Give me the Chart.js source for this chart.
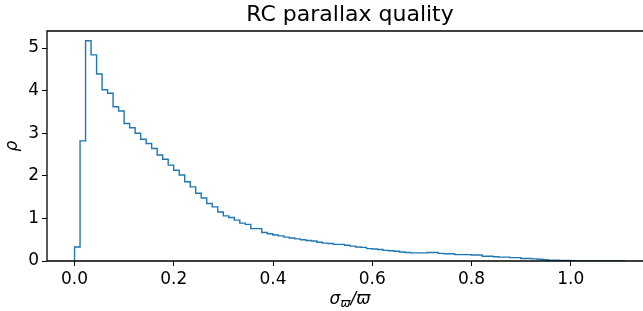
<!DOCTYPE html>
<html>
<head>
<meta charset="UTF-8">
<title>RC parallax quality</title>
<script src="https://cdn.jsdelivr.net/npm/chart.js"></script>
<style>
    body { margin: 0; overflow: hidden; background: #fff; }
    #wrap { width: 643px; height: 311px; }
</style>
</head>
<body>
<div id="wrap"><canvas id="chart"></canvas></div>
<script>
// histogram: 100 bins starting at 0, width ~0.0111, density values per bin
const binStart = 0;
const binWidth = 0.0111;
const density = [
    0.33, 2.82, 5.17, 4.84, 4.39, 4.02, 3.94, 3.62, 3.52, 3.23,
    3.13, 3.00, 2.86, 2.76, 2.64, 2.49, 2.39, 2.25, 2.13, 2.02,
    1.86, 1.74, 1.59, 1.48, 1.35, 1.27, 1.15, 1.06, 1.02, 0.96,
    0.89, 0.86, 0.76, 0.76, 0.67, 0.64, 0.61, 0.59, 0.56, 0.54,
    0.52, 0.50, 0.48, 0.47, 0.44, 0.42, 0.41, 0.39, 0.39, 0.37,
    0.35, 0.33, 0.32, 0.29, 0.28, 0.27, 0.25, 0.24, 0.23, 0.21,
    0.20, 0.19, 0.19, 0.19, 0.20, 0.20, 0.18, 0.17, 0.17, 0.15,
    0.15, 0.15, 0.14, 0.14, 0.11, 0.11, 0.10, 0.09, 0.09, 0.08,
    0.08, 0.06, 0.06, 0.05, 0.04, 0.03, 0.02, 0.02, 0.015, 0.01,
    0.008, 0.004, 0, 0, 0, 0, 0, 0, 0, 0
];
const xTicks = [0.0, 0.2, 0.4, 0.6, 0.8, 1.0];
const yTicks = [0, 1, 2, 3, 4, 5];
const title = 'RC parallax quality';

const FONT = "'DejaVu Sans', sans-serif";

// step outline points (left edges), closed down to zero at both ends
let pts = [{ x: binStart, y: 0 }];
density.forEach((v, i) => pts.push({ x: binStart + i * binWidth, y: v }));
pts.push({ x: binStart + density.length * binWidth, y: 0 });

// the figure is cropped on the right, so the axes centre sits at x=350
const midX = 350;

// spines (right one is outside the crop), title, x label with subscript
const frame = {
    id: 'frame',
    afterDraw(chart) {
        const c = chart.ctx, a = chart.chartArea;
        c.save();
        c.strokeStyle = '#000';
        c.lineWidth = 1.3;
        c.beginPath();
        c.moveTo(a.right + 5, a.top);
        c.lineTo(a.left, a.top);
        c.lineTo(a.left, a.bottom);
        c.lineTo(a.right + 5, a.bottom);
        c.stroke();

        c.fillStyle = '#000';
        c.textBaseline = 'alphabetic';
        c.textAlign = 'center';
        c.font = '22px ' + FONT;
        c.fillText(title, midX, 21);

        const big = 'italic 17px ' + FONT, small = 'italic 12px ' + FONT;
        c.font = big; const w1 = c.measureText('σ').width;
        c.font = small; const w2 = c.measureText('ϖ').width;
        c.font = big; const w3 = c.measureText('/ϖ').width;
        let x = midX - (w1 + w2 + w3) / 2;
        const y = 304;
        c.textAlign = 'left';
        c.font = big; c.fillText('σ', x, y); x += w1;
        c.font = small; c.fillText('ϖ', x, y + 3); x += w2;
        c.font = big; c.fillText('/ϖ', x, y);
        c.restore();
    }
};

new Chart(document.getElementById('chart'), {
    type: 'line',
    data: {
        datasets: [{
            data: pts,
            stepped: true,
            borderColor: '#1f77b4',
            borderWidth: 1.4,
            pointRadius: 0,
            fill: false
        }]
    },
    options: {
        responsive: true,
        maintainAspectRatio: false,
        animation: false,
        layout: { padding: { left: 0, right: 0, top: 31, bottom: 0 } },
        plugins: {
            legend: { display: false },
            tooltip: { enabled: false },
            title: { display: false }
        },
        scales: {
            x: {
                type: 'linear',
                min: -0.0555,
                max: 1.1455,
                afterBuildTicks: s => { s.ticks = xTicks.map(v => ({ value: v })); },
                afterFit: s => { s.height = 50; },
                border: { display: false },
                grid: { drawOnChartArea: false, drawTicks: true, tickLength: 5, color: '#000' },
                ticks: {
                    color: '#000',
                    padding: 3,
                    maxRotation: 0,
                    font: { family: FONT, size: 17 },
                    callback: v => v.toFixed(1)
                }
            },
            y: {
                min: 0,
                max: 5.4,
                afterBuildTicks: s => { s.ticks = yTicks.map(v => ({ value: v })); },
                afterFit: s => { s.width = 47; },
                border: { display: false },
                grid: { drawOnChartArea: false, drawTicks: true, tickLength: 5, color: '#000' },
                ticks: {
                    color: '#000',
                    padding: 3,
                    font: { family: FONT, size: 17 }
                },
                title: {
                    display: true,
                    text: 'ρ',
                    color: '#000',
                    font: { family: FONT, size: 17, style: 'italic' },
                    padding: { top: 2, bottom: 0 }
                }
            }
        }
    },
    plugins: [frame]
});
</script>
</body>
</html>
